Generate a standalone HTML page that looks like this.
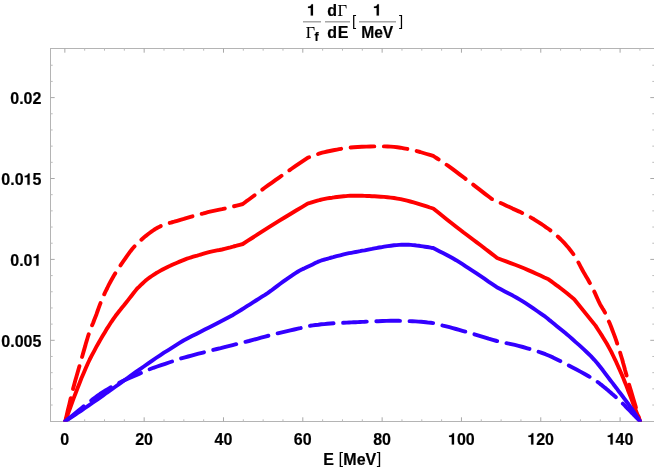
<!DOCTYPE html>
<html><head><meta charset="utf-8"><title>plot</title>
<style>
html,body{margin:0;padding:0;background:#fff;}
body{width:654px;height:472px;overflow:hidden;}
svg{display:block;will-change:transform;}
text{font-family:"Liberation Sans",sans-serif;font-weight:bold;fill:#000;stroke:#000;stroke-width:0.18px;}
.s{font-family:"Liberation Serif",serif;font-weight:normal;stroke-width:0.1px;}
.r{font-family:"Liberation Sans",sans-serif;font-weight:normal;stroke:none;}
</style></head><body>
<svg width="654" height="472" viewBox="0 0 654 472">
<rect width="654" height="472" fill="#fff"/>
<g stroke="#b4b4b4" stroke-width="1" fill="none" shape-rendering="crispEdges">
<line x1="50.5" y1="48.5" x2="50.5" y2="421.4"/>
<line x1="50.0" y1="48.5" x2="654" y2="48.5"/>
<line x1="50.0" y1="421.5" x2="654" y2="421.5"/>
</g>
<g stroke="#a8a8a8" stroke-width="1" fill="none">
<g><line x1="64.85" y1="417.3" x2="64.85" y2="421.5"/><line x1="64.85" y1="48.5" x2="64.85" y2="52.7"/></g>
<g stroke="#bcbcbc"><line x1="84.68" y1="419.3" x2="84.68" y2="421.5"/><line x1="84.68" y1="48.5" x2="84.68" y2="50.7"/></g>
<g stroke="#bcbcbc"><line x1="104.51" y1="419.3" x2="104.51" y2="421.5"/><line x1="104.51" y1="48.5" x2="104.51" y2="50.7"/></g>
<g stroke="#bcbcbc"><line x1="124.34" y1="419.3" x2="124.34" y2="421.5"/><line x1="124.34" y1="48.5" x2="124.34" y2="50.7"/></g>
<g><line x1="144.17" y1="417.3" x2="144.17" y2="421.5"/><line x1="144.17" y1="48.5" x2="144.17" y2="52.7"/></g>
<g stroke="#bcbcbc"><line x1="164.0" y1="419.3" x2="164.0" y2="421.5"/><line x1="164.0" y1="48.5" x2="164.0" y2="50.7"/></g>
<g stroke="#bcbcbc"><line x1="183.83" y1="419.3" x2="183.83" y2="421.5"/><line x1="183.83" y1="48.5" x2="183.83" y2="50.7"/></g>
<g stroke="#bcbcbc"><line x1="203.66" y1="419.3" x2="203.66" y2="421.5"/><line x1="203.66" y1="48.5" x2="203.66" y2="50.7"/></g>
<g><line x1="223.49" y1="417.3" x2="223.49" y2="421.5"/><line x1="223.49" y1="48.5" x2="223.49" y2="52.7"/></g>
<g stroke="#bcbcbc"><line x1="243.32" y1="419.3" x2="243.32" y2="421.5"/><line x1="243.32" y1="48.5" x2="243.32" y2="50.7"/></g>
<g stroke="#bcbcbc"><line x1="263.15" y1="419.3" x2="263.15" y2="421.5"/><line x1="263.15" y1="48.5" x2="263.15" y2="50.7"/></g>
<g stroke="#bcbcbc"><line x1="282.98" y1="419.3" x2="282.98" y2="421.5"/><line x1="282.98" y1="48.5" x2="282.98" y2="50.7"/></g>
<g><line x1="302.81" y1="417.3" x2="302.81" y2="421.5"/><line x1="302.81" y1="48.5" x2="302.81" y2="52.7"/></g>
<g stroke="#bcbcbc"><line x1="322.64" y1="419.3" x2="322.64" y2="421.5"/><line x1="322.64" y1="48.5" x2="322.64" y2="50.7"/></g>
<g stroke="#bcbcbc"><line x1="342.47" y1="419.3" x2="342.47" y2="421.5"/><line x1="342.47" y1="48.5" x2="342.47" y2="50.7"/></g>
<g stroke="#bcbcbc"><line x1="362.3" y1="419.3" x2="362.3" y2="421.5"/><line x1="362.3" y1="48.5" x2="362.3" y2="50.7"/></g>
<g><line x1="382.13" y1="417.3" x2="382.13" y2="421.5"/><line x1="382.13" y1="48.5" x2="382.13" y2="52.7"/></g>
<g stroke="#bcbcbc"><line x1="401.96" y1="419.3" x2="401.96" y2="421.5"/><line x1="401.96" y1="48.5" x2="401.96" y2="50.7"/></g>
<g stroke="#bcbcbc"><line x1="421.79" y1="419.3" x2="421.79" y2="421.5"/><line x1="421.79" y1="48.5" x2="421.79" y2="50.7"/></g>
<g stroke="#bcbcbc"><line x1="441.62" y1="419.3" x2="441.62" y2="421.5"/><line x1="441.62" y1="48.5" x2="441.62" y2="50.7"/></g>
<g><line x1="461.45" y1="417.3" x2="461.45" y2="421.5"/><line x1="461.45" y1="48.5" x2="461.45" y2="52.7"/></g>
<g stroke="#bcbcbc"><line x1="481.28" y1="419.3" x2="481.28" y2="421.5"/><line x1="481.28" y1="48.5" x2="481.28" y2="50.7"/></g>
<g stroke="#bcbcbc"><line x1="501.11" y1="419.3" x2="501.11" y2="421.5"/><line x1="501.11" y1="48.5" x2="501.11" y2="50.7"/></g>
<g stroke="#bcbcbc"><line x1="520.94" y1="419.3" x2="520.94" y2="421.5"/><line x1="520.94" y1="48.5" x2="520.94" y2="50.7"/></g>
<g><line x1="540.77" y1="417.3" x2="540.77" y2="421.5"/><line x1="540.77" y1="48.5" x2="540.77" y2="52.7"/></g>
<g stroke="#bcbcbc"><line x1="560.6" y1="419.3" x2="560.6" y2="421.5"/><line x1="560.6" y1="48.5" x2="560.6" y2="50.7"/></g>
<g stroke="#bcbcbc"><line x1="580.43" y1="419.3" x2="580.43" y2="421.5"/><line x1="580.43" y1="48.5" x2="580.43" y2="50.7"/></g>
<g stroke="#bcbcbc"><line x1="600.26" y1="419.3" x2="600.26" y2="421.5"/><line x1="600.26" y1="48.5" x2="600.26" y2="50.7"/></g>
<g><line x1="620.09" y1="417.3" x2="620.09" y2="421.5"/><line x1="620.09" y1="48.5" x2="620.09" y2="52.7"/></g>
<g stroke="#bcbcbc"><line x1="639.92" y1="419.3" x2="639.92" y2="421.5"/><line x1="639.92" y1="48.5" x2="639.92" y2="50.7"/></g>
<g stroke="#bcbcbc"><line x1="50.5" y1="405.02" x2="52.7" y2="405.02"/><line x1="652.3" y1="405.02" x2="654" y2="405.02"/></g>
<g stroke="#bcbcbc"><line x1="50.5" y1="388.84" x2="52.7" y2="388.84"/><line x1="652.3" y1="388.84" x2="654" y2="388.84"/></g>
<g stroke="#bcbcbc"><line x1="50.5" y1="372.66" x2="52.7" y2="372.66"/><line x1="652.3" y1="372.66" x2="654" y2="372.66"/></g>
<g stroke="#bcbcbc"><line x1="50.5" y1="356.48" x2="52.7" y2="356.48"/><line x1="652.3" y1="356.48" x2="654" y2="356.48"/></g>
<g><line x1="50.5" y1="340.3" x2="54.7" y2="340.3"/><line x1="650.3" y1="340.3" x2="654" y2="340.3"/></g>
<g stroke="#bcbcbc"><line x1="50.5" y1="324.12" x2="52.7" y2="324.12"/><line x1="652.3" y1="324.12" x2="654" y2="324.12"/></g>
<g stroke="#bcbcbc"><line x1="50.5" y1="307.94" x2="52.7" y2="307.94"/><line x1="652.3" y1="307.94" x2="654" y2="307.94"/></g>
<g stroke="#bcbcbc"><line x1="50.5" y1="291.76" x2="52.7" y2="291.76"/><line x1="652.3" y1="291.76" x2="654" y2="291.76"/></g>
<g stroke="#bcbcbc"><line x1="50.5" y1="275.58" x2="52.7" y2="275.58"/><line x1="652.3" y1="275.58" x2="654" y2="275.58"/></g>
<g><line x1="50.5" y1="259.4" x2="54.7" y2="259.4"/><line x1="650.3" y1="259.4" x2="654" y2="259.4"/></g>
<g stroke="#bcbcbc"><line x1="50.5" y1="243.22" x2="52.7" y2="243.22"/><line x1="652.3" y1="243.22" x2="654" y2="243.22"/></g>
<g stroke="#bcbcbc"><line x1="50.5" y1="227.04" x2="52.7" y2="227.04"/><line x1="652.3" y1="227.04" x2="654" y2="227.04"/></g>
<g stroke="#bcbcbc"><line x1="50.5" y1="210.86" x2="52.7" y2="210.86"/><line x1="652.3" y1="210.86" x2="654" y2="210.86"/></g>
<g stroke="#bcbcbc"><line x1="50.5" y1="194.68" x2="52.7" y2="194.68"/><line x1="652.3" y1="194.68" x2="654" y2="194.68"/></g>
<g><line x1="50.5" y1="178.5" x2="54.7" y2="178.5"/><line x1="650.3" y1="178.5" x2="654" y2="178.5"/></g>
<g stroke="#bcbcbc"><line x1="50.5" y1="162.32" x2="52.7" y2="162.32"/><line x1="652.3" y1="162.32" x2="654" y2="162.32"/></g>
<g stroke="#bcbcbc"><line x1="50.5" y1="146.14" x2="52.7" y2="146.14"/><line x1="652.3" y1="146.14" x2="654" y2="146.14"/></g>
<g stroke="#bcbcbc"><line x1="50.5" y1="129.96" x2="52.7" y2="129.96"/><line x1="652.3" y1="129.96" x2="654" y2="129.96"/></g>
<g stroke="#bcbcbc"><line x1="50.5" y1="113.78" x2="52.7" y2="113.78"/><line x1="652.3" y1="113.78" x2="654" y2="113.78"/></g>
<g><line x1="50.5" y1="97.6" x2="54.7" y2="97.6"/><line x1="650.3" y1="97.6" x2="654" y2="97.6"/></g>
<g stroke="#bcbcbc"><line x1="50.5" y1="81.42" x2="52.7" y2="81.42"/><line x1="652.3" y1="81.42" x2="654" y2="81.42"/></g>
<g stroke="#bcbcbc"><line x1="50.5" y1="65.24" x2="52.7" y2="65.24"/><line x1="652.3" y1="65.24" x2="654" y2="65.24"/></g>
</g>
<clipPath id="c"><rect x="51" y="49" width="603" height="372.6"/></clipPath>
<g fill="none" stroke-width="3.9" stroke-linejoin="round" stroke-linecap="round" clip-path="url(#c)">
<polyline stroke="#ff0000" points="65.3,421.3 67.0,416.6 68.7,411.9 70.4,407.3 72.1,402.6 73.8,397.9 75.6,393.2 77.5,388.3 79.5,383.3 81.4,378.3 83.5,373.4 85.6,368.5 87.7,363.8 89.7,359.5 91.8,355.4 94.0,351.3 96.2,347.2 98.4,343.3 100.6,339.4 102.7,335.8 104.9,332.2 107.0,328.6 109.2,325.2 111.4,321.8 113.6,318.6 115.6,315.8 117.6,313.2 119.7,310.6 121.7,308.0 123.8,305.5 125.8,303.0 127.7,300.6 129.6,298.1 131.5,295.7 133.4,293.3 135.3,290.9 137.2,288.5 139.0,286.9 140.7,285.2 142.5,283.5 144.2,281.9 146.0,280.3 147.9,278.8 149.8,277.4 151.8,276.0 153.9,274.6 155.9,273.3 158.0,272.1 160.1,270.9 162.1,269.8 164.1,268.7 166.1,267.7 168.1,266.7 170.2,265.8 172.3,264.8 174.7,263.7 177.1,262.7 179.6,261.6 182.1,260.6 184.6,259.6 187.0,258.7 189.1,258.0 191.2,257.3 193.2,256.7 195.2,256.1 197.2,255.6 199.2,255.0 201.0,254.5 202.8,253.9 204.5,253.4 206.3,252.9 208.1,252.4 210.0,251.9 212.3,251.4 214.6,250.9 217.0,250.4 219.5,250.0 222.0,249.5 224.5,248.9 227.4,248.2 230.5,247.4 233.5,246.5 236.6,245.7 239.7,244.8 242.8,244.0 247.9,240.7 252.9,237.5 258.0,234.2 263.1,230.9 268.2,227.7 273.4,224.4 279.0,220.9 284.6,217.5 290.4,214.0 296.1,210.5 301.9,207.1 307.6,203.6 310.0,202.9 312.5,202.1 314.9,201.4 317.4,200.7 319.8,200.0 322.3,199.4 324.7,198.9 327.2,198.4 329.7,198.0 332.2,197.7 334.6,197.3 337.0,197.0 339.2,196.7 341.5,196.5 343.7,196.3 345.8,196.1 347.9,195.9 350.0,195.8 351.7,195.7 353.4,195.7 355.0,195.7 356.6,195.7 358.2,195.8 360.0,195.8 362.2,195.8 364.6,195.9 367.0,196.0 369.4,196.0 371.9,196.2 374.5,196.3 377.6,196.5 380.8,196.7 384.1,196.9 387.4,197.2 390.7,197.6 394.0,198.0 397.3,198.6 400.6,199.2 403.8,199.9 407.1,200.7 410.3,201.5 413.6,202.4 416.9,203.3 420.1,204.3 423.4,205.3 426.7,206.4 429.9,207.5 433.2,208.5 437.7,212.1 442.3,215.7 446.9,219.4 451.4,223.0 455.8,226.5 460.1,229.8 463.6,232.5 467.0,235.0 470.3,237.5 473.6,240.0 476.8,242.4 480.0,244.8 482.9,247.0 485.8,249.3 488.6,251.4 491.5,253.6 494.3,255.8 497.1,258.0 501.6,259.7 506.1,261.4 510.6,263.1 515.1,264.8 519.6,266.5 524.0,268.3 528.2,270.1 532.3,271.9 536.3,273.7 540.4,275.6 544.4,277.5 548.5,279.3 551.0,281.1 553.5,283.0 556.0,284.9 558.5,286.7 560.9,288.5 563.2,290.3 565.1,291.8 567.0,293.3 568.8,294.8 570.6,296.3 572.4,297.7 574.2,299.2 595.5,325.6 597.8,329.2 600.1,332.8 602.4,336.4 604.6,340.1 606.9,343.8 609.0,347.6 611.2,351.7 613.3,356.0 615.4,360.3 617.4,364.7 619.3,369.0 621.2,373.3 623.0,377.4 624.6,381.5 626.3,385.6 627.8,389.7 629.4,393.7 631.0,397.8 632.5,401.7 634.0,405.7 635.5,409.6 637.0,413.5 638.5,417.4 640.0,421.3"/>
<polyline stroke="#ff0000" stroke-dasharray="23.7 9.55" points="65.3,421.3 66.6,415.7 67.9,410.0 69.3,404.4 70.6,398.8 71.9,393.4 73.2,388.3 74.3,384.3 75.3,380.5 76.4,376.8 77.4,373.3 78.4,369.8 79.4,366.3 80.2,363.3 81.1,360.4 81.9,357.5 82.7,354.7 83.5,351.9 84.3,349.1 85.1,346.4 85.8,343.7 86.6,341.1 87.4,338.5 88.2,335.8 89.1,333.2 90.1,330.6 91.1,327.9 92.1,325.3 93.2,322.7 94.2,320.0 95.3,317.3 96.5,314.2 97.6,311.0 98.8,307.7 100.0,304.4 101.3,301.1 102.6,297.9 104.1,294.6 105.6,291.3 107.3,288.0 108.9,284.7 110.6,281.5 112.4,278.3 114.1,275.3 115.9,272.4 117.8,269.5 119.6,266.7 121.5,263.9 123.4,261.2 125.2,258.6 126.9,256.1 128.7,253.6 130.5,251.2 132.4,248.8 134.4,246.5 136.5,244.3 138.7,242.1 141.0,240.0 143.3,238.0 145.6,236.1 147.9,234.3 149.9,232.8 151.8,231.4 153.8,230.0 155.8,228.7 157.9,227.5 160.1,226.4 162.7,225.3 165.5,224.3 168.3,223.4 171.3,222.5 174.2,221.7 177.2,220.8 180.4,219.8 183.8,218.9 187.1,217.9 190.5,216.9 193.7,216.0 196.8,215.2 199.1,214.6 201.4,213.9 203.5,213.4 205.6,212.8 207.8,212.2 210.0,211.7 212.4,211.2 214.7,210.7 217.1,210.2 219.5,209.7 222.0,209.2 224.5,208.6 227.4,207.9 230.4,207.2 233.5,206.4 236.6,205.6 239.7,204.8 242.8,204.0 245.8,201.7 248.9,199.5 251.9,197.3 254.9,195.0 258.0,192.7 261.2,190.4 264.7,187.8 268.3,185.2 272.0,182.6 275.7,179.9 279.4,177.3 283.2,174.6 287.2,171.8 291.2,169.0 295.3,166.2 299.4,163.4 303.5,160.6 307.6,157.8 310.0,156.9 312.5,156.0 314.9,155.1 317.4,154.3 319.8,153.4 322.3,152.7 324.7,152.1 327.2,151.5 329.7,151.0 332.2,150.5 334.6,150.0 337.0,149.6 339.2,149.2 341.2,148.8 343.3,148.5 345.4,148.2 347.6,147.9 350.0,147.6 353.7,147.3 357.7,147.0 361.9,146.8 366.3,146.6 370.5,146.5 374.5,146.4 377.9,146.4 381.2,146.4 384.4,146.4 387.6,146.5 390.8,146.6 394.0,146.9 397.3,147.3 400.5,147.7 403.8,148.3 407.1,148.9 410.3,149.6 413.6,150.3 416.9,151.1 420.2,152.0 423.4,153.0 426.7,154.0 429.9,154.9 433.2,155.9 435.6,157.5 438.0,159.0 440.3,160.6 442.8,162.2 445.3,163.9 447.9,165.7 451.7,168.4 455.7,171.4 459.9,174.6 464.2,177.8 468.3,181.0 472.3,184.0 475.7,186.6 479.0,189.1 482.2,191.6 485.4,194.1 488.6,196.5 491.8,199.0 494.7,200.3 497.6,201.7 500.5,203.0 503.5,204.3 506.4,205.7 509.4,207.1 512.6,208.6 516.0,210.1 519.3,211.6 522.6,213.2 525.8,214.8 528.9,216.4 531.5,217.9 534.0,219.3 536.4,220.8 538.8,222.3 541.2,223.9 543.6,225.5 546.1,227.3 548.6,229.0 551.1,230.9 553.5,232.8 555.9,234.9 558.3,237.0 560.9,239.5 563.5,242.2 566.0,244.9 568.5,247.8 570.8,250.7 573.0,253.6 574.9,256.4 576.6,259.2 578.2,262.1 579.7,264.9 581.2,267.8 582.8,270.7 584.4,273.6 586.1,276.4 587.8,279.3 589.4,282.2 591.0,285.1 592.5,287.9 593.8,290.6 595.1,293.4 596.3,296.1 597.5,298.8 598.7,301.4 599.9,303.8 600.8,305.5 601.7,307.0 602.6,308.5 603.5,309.9 604.4,311.5 605.3,313.3 606.7,316.3 608.1,319.6 609.6,323.1 611.1,326.8 612.5,330.5 613.9,334.1 615.2,337.7 616.5,341.4 617.7,345.1 618.9,348.8 620.1,352.5 621.2,356.2 622.3,359.8 623.2,363.3 624.2,366.7 625.1,370.3 626.2,374.1 627.3,378.2 629.1,384.6 631.2,391.5 633.3,398.9 635.6,406.4 637.8,414.0 640.0,421.3"/>
<polyline stroke="#3300ff" points="65.3,421.3 68.4,419.2 71.5,417.1 74.6,415.1 77.7,413.0 81.0,410.8 84.3,408.5 88.5,405.6 93.0,402.5 97.6,399.3 102.2,396.1 106.7,392.8 111.2,389.7 115.3,386.7 119.4,383.8 123.5,380.9 127.5,378.0 131.5,375.1 135.6,372.2 139.7,369.3 143.8,366.5 147.9,363.6 151.9,360.8 156.0,358.0 160.1,355.3 164.0,352.7 167.9,350.3 171.8,347.8 175.7,345.4 179.6,342.9 183.5,340.5 187.8,338.3 192.0,336.1 196.3,333.9 200.6,331.7 204.8,329.5 209.0,327.4 212.9,325.4 216.8,323.4 220.6,321.5 224.4,319.5 228.2,317.6 232.0,315.6 235.0,313.7 238.0,311.8 241.0,310.0 244.0,308.1 247.0,306.2 250.0,304.3 253.0,302.4 256.0,300.5 259.0,298.6 262.0,296.7 265.0,294.8 268.0,292.8 271.0,290.7 274.1,288.4 277.1,286.1 280.2,283.8 283.1,281.7 286.0,279.6 288.5,277.9 291.1,276.1 293.6,274.4 295.9,272.9 298.1,271.5 300.0,270.4 300.9,269.9 301.7,269.5 302.4,269.2 303.1,268.9 303.8,268.6 304.5,268.3 307.1,267.0 309.9,265.7 312.6,264.4 315.2,263.1 317.7,261.9 320.0,261.0 321.3,260.5 322.4,260.1 323.5,259.8 324.6,259.5 325.8,259.2 327.2,258.8 329.9,258.0 333.2,257.2 336.6,256.2 340.2,255.3 343.6,254.4 346.8,253.7 349.1,253.2 351.4,252.8 353.5,252.4 355.6,252.0 357.8,251.6 360.0,251.2 362.4,250.7 364.7,250.3 367.1,249.8 369.5,249.3 371.9,248.9 374.5,248.4 377.6,247.8 380.9,247.3 384.2,246.7 387.6,246.1 390.9,245.7 394.0,245.3 396.6,245.1 399.1,244.9 401.6,244.8 404.0,244.7 406.4,244.7 408.7,244.8 410.8,244.9 412.9,245.1 414.9,245.3 416.9,245.6 418.9,245.8 420.9,246.1 422.9,246.4 425.0,246.7 427.0,247.0 429.1,247.3 431.1,247.7 433.2,248.0 436.5,249.7 439.8,251.4 443.0,253.0 446.3,254.7 449.6,256.5 452.8,258.3 456.1,260.2 459.3,262.2 462.5,264.2 465.7,266.3 468.9,268.4 472.3,270.6 476.2,273.2 480.3,275.9 484.4,278.7 488.5,281.6 492.7,284.4 496.8,287.2 500.8,289.3 504.8,291.4 508.8,293.5 512.8,295.6 516.7,297.8 520.7,300.1 524.8,302.7 528.9,305.4 533.0,308.2 537.1,311.0 541.2,313.9 545.3,316.7 547.6,318.5 549.8,320.4 552.1,322.2 554.3,324.0 556.6,325.9 558.8,327.7 561.0,329.5 563.2,331.3 565.4,333.1 567.6,334.9 569.9,336.9 572.3,339.0 575.7,342.1 579.5,345.4 583.3,348.9 587.1,352.5 590.9,356.2 594.3,359.8 597.3,363.2 600.1,366.8 602.9,370.3 605.5,373.8 608.0,377.2 610.3,380.2 611.8,382.1 613.2,383.9 614.4,385.6 615.7,387.2 617.0,388.9 618.4,390.8 620.3,393.3 622.4,396.0 624.5,398.8 626.6,401.7 628.7,404.5 630.6,407.2 632.3,409.6 633.9,412.0 635.4,414.3 636.9,416.6 638.5,419.0 640.0,421.3"/>
<polyline stroke="#3300ff" stroke-dasharray="23.7 9.55" points="65.3,421.3 68.6,418.6 71.9,415.9 75.2,413.2 78.5,410.6 81.7,408.0 84.8,405.5 87.4,403.4 90.0,401.4 92.6,399.4 95.1,397.5 97.6,395.7 100.0,394.0 102.0,392.7 104.0,391.4 105.9,390.2 107.8,389.1 109.8,387.9 111.8,386.8 113.9,385.6 116.1,384.5 118.2,383.3 120.4,382.2 122.7,381.1 125.0,380.0 127.8,378.7 130.7,377.4 133.7,376.1 136.7,374.9 139.5,373.7 142.0,372.6 143.5,371.9 144.8,371.3 146.1,370.8 147.3,370.2 148.7,369.6 150.3,369.0 153.4,367.8 157.2,366.5 161.2,365.1 165.2,363.8 169.0,362.5 172.3,361.4 174.1,360.8 175.7,360.2 177.2,359.7 178.7,359.2 180.3,358.7 182.1,358.2 185.0,357.4 188.2,356.5 191.5,355.6 195.0,354.6 198.5,353.7 202.0,352.8 205.7,351.9 209.4,350.9 213.1,350.0 216.9,349.0 220.7,348.1 224.5,347.1 228.5,346.1 232.6,345.1 236.6,344.1 240.7,343.1 244.8,342.0 248.9,341.0 253.0,339.9 257.1,338.8 261.1,337.7 265.2,336.6 269.3,335.5 273.4,334.4 277.6,333.4 281.9,332.4 286.2,331.4 290.4,330.4 294.3,329.5 297.9,328.7 300.2,328.2 302.2,327.6 304.1,327.1 306.0,326.7 308.0,326.2 310.1,325.8 312.8,325.4 315.5,325.0 318.4,324.7 321.3,324.3 324.2,324.1 327.2,323.8 330.4,323.5 333.8,323.3 337.2,323.1 340.5,322.9 343.7,322.8 346.8,322.6 349.1,322.5 351.4,322.4 353.5,322.3 355.7,322.2 357.8,322.1 360.0,322.0 362.3,321.9 364.6,321.8 367.0,321.6 369.4,321.5 371.9,321.4 374.5,321.3 378.2,321.2 382.3,321.0 386.5,320.9 390.7,320.8 394.9,320.8 398.9,320.8 402.3,320.9 405.7,320.9 409.0,321.1 412.3,321.2 415.4,321.4 418.5,321.6 421.1,321.8 423.6,322.0 426.0,322.3 428.4,322.6 430.8,322.8 433.2,323.1 436.5,323.9 439.7,324.7 443.0,325.6 446.3,326.4 449.5,327.2 452.8,328.1 456.0,329.0 459.2,329.9 462.4,330.8 465.6,331.7 468.9,332.7 472.3,333.7 476.2,334.9 480.3,336.1 484.5,337.4 488.6,338.7 492.8,339.9 496.8,341.0 500.5,341.9 504.0,342.7 507.6,343.4 511.2,344.1 514.8,344.9 518.5,345.8 522.9,347.0 527.4,348.3 532.0,349.6 536.6,351.1 541.1,352.6 545.4,354.2 549.2,355.8 552.9,357.4 556.5,359.2 560.1,361.0 563.7,362.8 567.4,364.7 571.6,366.9 576.0,369.2 580.4,371.6 584.7,374.0 588.6,376.2 591.9,378.2 593.5,379.2 595.0,380.2 596.3,381.1 597.5,381.9 598.7,382.8 600.0,383.8 601.4,384.8 602.7,385.9 604.0,387.0 605.4,388.1 606.7,389.2 608.0,390.3 609.3,391.4 610.6,392.5 611.9,393.7 613.2,394.8 614.5,395.9 615.7,397.0 616.8,398.0 617.8,398.9 618.8,399.8 619.9,400.8 620.9,401.7 622.0,402.8 623.4,404.2 624.9,405.7 626.4,407.3 627.9,408.8 629.5,410.4 631.0,412.0 632.5,413.5 634.0,415.1 635.5,416.6 637.0,418.2 638.5,419.7 640.0,421.3"/>
</g>
<g>
<text x="60.30" y="444.5" font-size="16">0</text>
<text x="135.17" y="444.5" font-size="16">20</text>
<text x="214.49" y="444.5" font-size="16">40</text>
<text x="293.81" y="444.5" font-size="16">60</text>
<text x="373.13" y="444.5" font-size="16">80</text>
<text x="448.00" y="444.5" font-size="16"><tspan visibility="hidden">1</tspan>00</text>
<path d="M378,0 L238,0 L238,476 L69,476 L69,566 C160,568 258,596 286,710 L378,710 Z" transform="translate(448.00,444.5) scale(0.01600,-0.01600)" fill="#000" stroke="#000" stroke-width="11.2" stroke-linejoin="miter"/>
<text x="527.32" y="444.5" font-size="16"><tspan visibility="hidden">1</tspan>20</text>
<path d="M378,0 L238,0 L238,476 L69,476 L69,566 C160,568 258,596 286,710 L378,710 Z" transform="translate(527.32,444.5) scale(0.01600,-0.01600)" fill="#000" stroke="#000" stroke-width="11.2" stroke-linejoin="miter"/>
<text x="606.64" y="444.5" font-size="16"><tspan visibility="hidden">1</tspan>40</text>
<path d="M378,0 L238,0 L238,476 L69,476 L69,566 C160,568 258,596 286,710 L378,710 Z" transform="translate(606.64,444.5) scale(0.01600,-0.01600)" fill="#000" stroke="#000" stroke-width="11.2" stroke-linejoin="miter"/>
<text x="1.36" y="346.6" font-size="16">0.005</text>
<text x="10.26" y="265.7" font-size="16">0.0<tspan visibility="hidden">1</tspan></text>
<path d="M378,0 L238,0 L238,476 L69,476 L69,566 C160,568 258,596 286,710 L378,710 Z" transform="translate(32.50,265.7) scale(0.01600,-0.01600)" fill="#000" stroke="#000" stroke-width="11.2" stroke-linejoin="miter"/>
<text x="1.36" y="184.8" font-size="16">0.0<tspan visibility="hidden">1</tspan>5</text>
<path d="M378,0 L238,0 L238,476 L69,476 L69,566 C160,568 258,596 286,710 L378,710 Z" transform="translate(23.60,184.8) scale(0.01600,-0.01600)" fill="#000" stroke="#000" stroke-width="11.2" stroke-linejoin="miter"/>
<text x="10.26" y="103.9" font-size="16">0.02</text>
</g>
<g font-size="16">
<text x="323.2" y="464.5">E</text>
<text class="r" x="338.6" y="464.4" font-size="16.5" fill="#222">[</text>
<text x="343.3" y="464.5">MeV</text>
<text class="r" x="376.8" y="464.4" font-size="16.5" fill="#222">]</text>
</g>
<g font-size="16">
<text x="306.95" y="15.6" font-size="16"><tspan visibility="hidden">1</tspan></text>
<path d="M378,0 L238,0 L238,476 L69,476 L69,566 C160,568 258,596 286,710 L378,710 Z" transform="translate(306.95,15.6) scale(0.01600,-0.01600)" fill="#000" stroke="#000" stroke-width="11.2" stroke-linejoin="miter"/>
<text class="s" x="305.8" y="37.6" font-size="16">Γ</text>
<text x="314.5" y="40.7" font-size="12.5">f</text>
<text x="327.3" y="15.6">d</text>
<text class="s" x="337.6" y="15.5" font-size="16.5">Γ</text>
<text x="327.2" y="37.9">d<tspan dx="0.8">E</tspan></text>
<text class="r" x="352.1" y="26.4" font-size="15" fill="#222">[</text>
<text x="372.85" y="15.6" font-size="16"><tspan visibility="hidden">1</tspan></text>
<path d="M378,0 L238,0 L238,476 L69,476 L69,566 C160,568 258,596 286,710 L378,710 Z" transform="translate(372.85,15.6) scale(0.01600,-0.01600)" fill="#000" stroke="#000" stroke-width="11.2" stroke-linejoin="miter"/>
<text x="377.2" y="37.9" text-anchor="middle" font-size="15.6">MeV</text>
<text class="r" x="398.9" y="26.4" font-size="15" fill="#222">]</text>
</g>
<g stroke="#7a7a7a" stroke-width="1">
<line x1="303" y1="21.85" x2="321" y2="21.85"/>
<line x1="325" y1="21.85" x2="350" y2="21.85"/>
<line x1="359" y1="21.85" x2="396" y2="21.85"/>
</g>
</svg>
</body></html>
